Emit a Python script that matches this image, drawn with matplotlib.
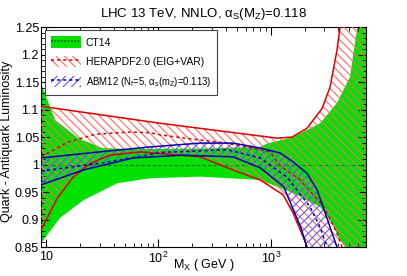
import matplotlib
matplotlib.use('Agg')
import matplotlib.pyplot as plt
import matplotlib.ticker as mticker
from matplotlib.patches import Patch
from matplotlib.lines import Line2D

plt.rcParams['font.family'] = ['Liberation Sans', 'DejaVu Sans']
plt.rcParams['mathtext.fontset'] = 'custom'
plt.rcParams['mathtext.rm'] = 'Liberation Sans'
plt.rcParams['mathtext.it'] = 'Liberation Sans'
plt.rcParams['mathtext.bf'] = 'Liberation Sans:bold'
plt.rcParams['hatch.linewidth'] = 0.8

# CT14 band (GeV, ratio)
ct14_up_x = [9, 12, 19.3, 31.6, 60, 235, 804, 927, 1580, 2750, 3890, 5075, 5860, 6500, 9000]
ct14_up_y = [1.148, 1.081, 1.048, 1.030, 1.028, 1.029, 1.032, 1.038, 1.050, 1.075, 1.112, 1.159, 1.245, 1.40, 1.40]
ct14_lo_x = [9, 13.3, 21.4, 43, 84, 235, 804, 1580, 2750, 3375, 4140, 4775, 5200, 9000]
ct14_lo_y = [0.857, 0.903, 0.935, 0.966, 0.975, 0.978, 0.972, 0.948, 0.923, 0.899, 0.863, 0.845, 0.80, 0.80]

# HERAPDF2.0 band
hera_up_x = [9, 104, 1138, 1549, 2104, 2866, 3375, 3890, 4140, 4500, 9000]
hera_up_y = [1.106, 1.075, 1.048, 1.050, 1.066, 1.102, 1.141, 1.208, 1.25, 1.40, 1.40]
hera_lo_x = [9, 12.6, 17.4, 24.7, 37, 69, 235, 462, 804, 1288, 1580, 1938, 2104, 2300, 9000]
hera_lo_y = [0.881, 0.939, 0.977, 1.002, 1.017, 1.023, 1.014, 0.990, 0.972, 0.945, 0.912, 0.869, 0.85, 0.80, 0.80]
hera_c_x = [9, 15.7, 27.3, 54, 84, 104, 204, 408, 986, 1210, 1823, 2380, 2925, 3390, 3890, 4310, 4600]
hera_c_y = [1.014, 1.041, 1.055, 1.059, 1.058, 1.054, 1.046, 1.039, 1.023, 0.998, 0.972, 0.945, 0.925, 0.90, 0.875, 0.85, 0.82]

# ABM12 band
abm_up_x = [9, 30, 84, 235, 462, 804, 1210, 1580, 2104, 2585, 2925, 3375, 3890, 4200]
abm_up_y = [1.012, 1.023, 1.032, 1.039, 1.039, 1.030, 1.021, 1.005, 0.984, 0.954, 0.923, 0.886, 0.85, 0.82]
abm_lo_x = [9, 21.4, 60, 166, 462, 804, 1300, 1550, 1850, 2100, 2300]
abm_lo_y = [0.963, 0.990, 1.012, 1.017, 1.014, 0.994, 0.960, 0.923, 0.886, 0.85, 0.82]
abm_c_x = [9, 31.6, 108, 408, 804, 1398, 2238, 2750, 3175, 3500]
abm_c_y = [0.988, 1.003, 1.022, 1.027, 1.012, 0.977, 0.923, 0.886, 0.85, 0.82]

xtick_vals = [10, 100, 1000]
xtick_labels = ['10', '$10^{2}$', '$10^{3}$']
ytick_vals = [0.85, 0.9, 0.95, 1.0, 1.05, 1.1, 1.15, 1.2, 1.25]
ytick_labels = ['0.85', '0.9', '0.95', '1', '1.05', '1.1', '1.15', '1.2', '1.25']

green = '#00e100'
red_line = '#dd0000'
red_hatch = '#ff6a6a'
blue_line = '#0000b0'
blue_hatch = '#5a5aff'

fig = plt.figure(figsize=(4.07, 2.76), dpi=100)
ax = fig.add_axes([0.1007, 0.105, 0.7986, 0.797])

# CT14 solid band
ax.fill(ct14_up_x + ct14_lo_x[::-1], ct14_up_y + ct14_lo_y[::-1],
        facecolor=green, edgecolor='none', lw=0, zorder=1)
ax.axhline(1.0, color='#2e6b2e', ls=(0, (3, 2)), lw=0.8, zorder=2)

# HERAPDF hatched band
ax.fill(hera_up_x + hera_lo_x[::-1], hera_up_y + hera_lo_y[::-1],
        facecolor='none', edgecolor=red_hatch, hatch='\\\\\\\\', lw=0, zorder=3)
ax.plot(hera_up_x, hera_up_y, color=red_line, lw=1.1, zorder=5)
ax.plot(hera_lo_x, hera_lo_y, color=red_line, lw=1.1, zorder=5)
ax.plot(hera_c_x, hera_c_y, color=red_line, lw=1.1, ls=(0, (2, 2)), zorder=5)

# ABM12 hatched band
ax.fill(abm_up_x + abm_lo_x[::-1], abm_up_y + abm_lo_y[::-1],
        facecolor='none', edgecolor=blue_hatch, hatch='////', lw=0, zorder=4)
ax.plot(abm_up_x, abm_up_y, color=blue_line, lw=1.1, zorder=6)
ax.plot(abm_lo_x, abm_lo_y, color=blue_line, lw=1.1, zorder=6)
ax.plot(abm_c_x, abm_c_y, color=blue_line, lw=1.1, ls=(0, (2, 2)), zorder=6)

ax.set_xscale('log')
ax.set_xlim(9, 7050)
ax.set_ylim(0.85, 1.25)

ax.xaxis.set_major_locator(mticker.FixedLocator(xtick_vals))
ax.xaxis.set_major_formatter(mticker.FixedFormatter(xtick_labels))
ax.xaxis.set_minor_locator(mticker.LogLocator(base=10, subs=range(2, 10)))
ax.xaxis.set_minor_formatter(mticker.NullFormatter())
ax.yaxis.set_major_locator(mticker.FixedLocator(ytick_vals))
ax.yaxis.set_major_formatter(mticker.FixedFormatter(ytick_labels))
ax.yaxis.set_minor_locator(mticker.MultipleLocator(0.01))
ax.tick_params(which='both', direction='in', top=True, right=True, labelsize=9)
ax.tick_params(which='major', length=6, width=0.8)
ax.tick_params(which='minor', length=3, width=0.6)
ax.tick_params(axis='x', pad=3)
ax.tick_params(axis='y', pad=1.5)

for s in ax.spines.values():
    s.set_linewidth(0.8)

ax.set_title(r'LHC 13 TeV, NNLO, $\alpha_{\rm S}$(M$_{\rm Z}$)=0.118', fontsize=9.5, pad=7)
ax.set_xlabel(r'M$_{\rm X}$ ( GeV )', fontsize=9)
ax.xaxis.set_label_coords(0.5, -0.045)
ax.set_ylabel('Quark - Antiquark Luminosity', fontsize=9)
ax.yaxis.set_label_coords(-0.085, 0.48)

handles = [
    (Patch(facecolor=green, edgecolor='none'),
     Line2D([], [], color='#006400', ls=(0, (1, 1)), lw=1.2)),
    (Patch(facecolor='white', edgecolor=red_hatch, hatch='\\\\\\\\', lw=0),
     Line2D([], [], color=red_line, ls=(0, (2, 2)), lw=1.1)),
    (Patch(facecolor='white', edgecolor=blue_hatch, hatch='////', lw=0),
     Line2D([], [], color=blue_line, ls=(0, (2, 2)), lw=1.1)),
]
labels = ['CT14', 'HERAPDF2.0 (EIG+VAR)',
          r'ABM12 (N$_{\rm f}$=5, $\alpha_{\rm s}$(m$_{\rm Z}$)=0.113)']
leg = ax.legend(handles, labels, loc='upper left', bbox_to_anchor=(0.012, 0.986),
                borderaxespad=0, fontsize=7.5, handlelength=2.9, handleheight=1.3,
                handletextpad=0.4, labelspacing=0.75, borderpad=0.6,
                fancybox=False, framealpha=1, edgecolor='#444444')
leg.get_frame().set_linewidth(0.8)
leg.get_texts()[2].set_fontsize(6.9)
leg.set_zorder(10)

fig.savefig('out.png', dpi=100)
